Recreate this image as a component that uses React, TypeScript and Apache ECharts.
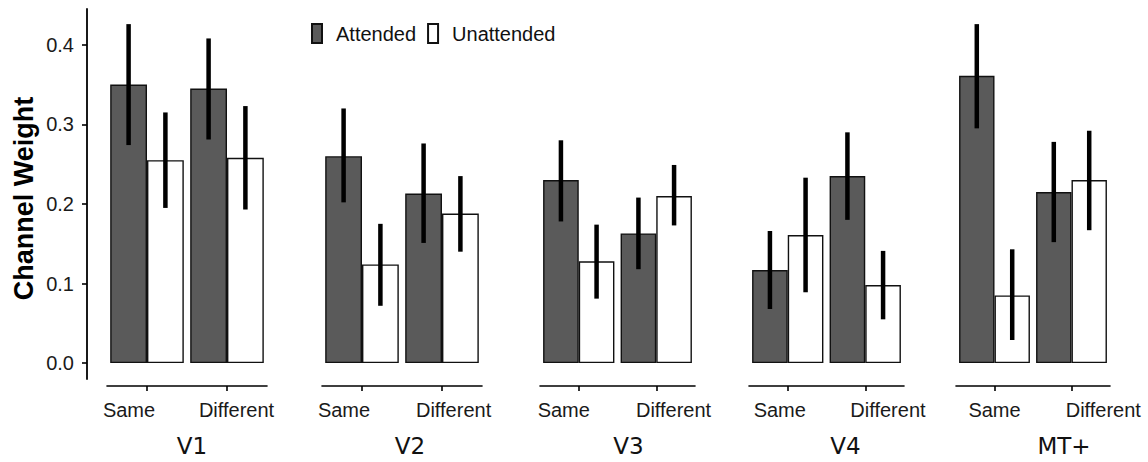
import React, { useEffect, useRef } from "react";
import * as echarts from "echarts";

const panels = ["V1", "V2", "V3", "V4", "MT+"];
const conditions = ["Same", "Different"];
const seriesNames = ["Attended", "Unattended"];
const attendedMean = [[0.350, 0.345], [0.260, 0.213], [0.230, 0.163], [0.117, 0.235], [0.361, 0.215]];
const attendedLow = [[0.274, 0.281], [0.202, 0.151], [0.178, 0.118], [0.068, 0.180], [0.295, 0.152]];
const attendedHigh = [[0.426, 0.408], [0.320, 0.276], [0.280, 0.208], [0.166, 0.290], [0.426, 0.278]];
const unattendedMean = [[0.255, 0.258], [0.124, 0.188], [0.128, 0.210], [0.161, 0.098], [0.085, 0.230]];
const unattendedLow = [[0.195, 0.193], [0.072, 0.140], [0.081, 0.173], [0.089, 0.055], [0.029, 0.167]];
const unattendedHigh = [[0.315, 0.323], [0.175, 0.235], [0.174, 0.249], [0.233, 0.141], [0.143, 0.292]];
const yTicks = [0, 0.1, 0.2, 0.3, 0.4];
const yMin = -0.02;
const yMax = 0.445;

// layout
const gridLeft = [107, 322, 540, 749, 956];
const gridWidth = [160, 160, 155, 155, 154];
// horizontal text offsets (px) of tick labels / panel titles relative to their anchor
const sameShift = [-18, -18, -15, -8, 0];
const diffShift = [9.5, 11.6, 17.3, 22.7, 31.8];
const titleShift = [5, 8, 11, 19, 31];
const GRID_TOP = 9;
const GRID_HEIGHT = 372;
const CAT_GAP = 0.08;
const FONT = "'Liberation Sans', Arial, Helvetica, sans-serif";
const DARK = "#5a5a5a";
const TICK_FS = 20;

const shiftPad = (s: number) => (s < 0 ? [0, -2 * s, 0, 0] : [0, 0, 0, 2 * s]);

export default function App() {
  const ref = useRef<HTMLDivElement>(null);
  useEffect(() => {
    if (!ref.current) return;
    const chart = echarts.init(ref.current, undefined, { renderer: "svg" });

    const grids = panels.map((_, i) => ({
      left: gridLeft[i],
      width: gridWidth[i],
      top: GRID_TOP,
      height: GRID_HEIGHT,
      containLabel: false,
    }));

    const xAxes = panels.map((p, i) => ({
      type: "category",
      gridIndex: i,
      data: conditions,
      position: "bottom",
      offset: 7,
      axisLine: { show: true, onZero: false, lineStyle: { color: "#000", width: 1.6 } },
      axisTick: { show: true, alignWithLabel: true, length: 5, lineStyle: { color: "#000", width: 1.6 } },
      axisLabel: {
        interval: 0,
        margin: 14,
        fontSize: TICK_FS,
        fontFamily: FONT,
        color: "#1a1a1a",
        formatter: (v: string) => (v === "Same" ? `{s|${v}}` : `{d|${v}}`),
        rich: {
          s: { fontSize: TICK_FS, fontFamily: FONT, color: "#1a1a1a", padding: shiftPad(sameShift[i]) },
          d: { fontSize: TICK_FS, fontFamily: FONT, color: "#1a1a1a", padding: shiftPad(diffShift[i]) },
        },
      },
      splitLine: { show: false },
      name: p,
      nameLocation: "middle",
      nameGap: 48,
      nameTextStyle: {
        fontFamily: "'DejaVu Sans', sans-serif",
        fontSize: 23,
        color: "#111",
        padding: shiftPad(titleShift[i]),
      },
    }));

    const yAxes = panels.map((_, i) => ({
      type: "value",
      gridIndex: i,
      min: yMin,
      max: yMax,
      show: i === 0,
      offset: 20,
      axisLine: { show: true, onZero: false, lineStyle: { color: "#000", width: 1.8 } },
      axisTick: { show: true, length: 5, customValues: yTicks, lineStyle: { color: "#000", width: 1.6 } },
      axisLabel: {
        customValues: yTicks,
        margin: 13,
        fontSize: TICK_FS,
        fontFamily: FONT,
        color: "#1a1a1a",
        formatter: (v: number) => v.toFixed(1),
      },
      splitLine: { show: false },
      name: i === 0 ? "Channel Weight" : "",
      nameLocation: "middle",
      nameRotate: 90,
      nameGap: 50,
      nameTextStyle: { fontFamily: FONT, fontSize: 27, fontWeight: "bold", color: "#000", padding: [0, 9, 0, 0] },
    }));

    const series: any[] = [];
    panels.forEach((_, i) => {
      series.push({
        type: "bar",
        name: seriesNames[0],
        xAxisIndex: i,
        yAxisIndex: i,
        data: attendedMean[i],
        barGap: "0%",
        barCategoryGap: `${CAT_GAP * 100}%`,
        itemStyle: { color: DARK, borderColor: "#111", borderWidth: 1.4 },
        z: 2,
      });
      series.push({
        type: "bar",
        name: seriesNames[1],
        xAxisIndex: i,
        yAxisIndex: i,
        data: unattendedMean[i],
        barGap: "0%",
        barCategoryGap: `${CAT_GAP * 100}%`,
        itemStyle: { color: "#ffffff", borderColor: "#111", borderWidth: 1.4 },
        z: 2,
      });
      const errData: number[][] = [];
      conditions.forEach((_, c) => {
        errData.push([c, attendedLow[i][c], attendedHigh[i][c], 0]);
        errData.push([c, unattendedLow[i][c], unattendedHigh[i][c], 1]);
      });
      series.push({
        type: "custom",
        name: "errors",
        xAxisIndex: i,
        yAxisIndex: i,
        data: errData,
        encode: { x: 0, y: [1, 2] },
        z: 5,
        silent: true,
        renderItem: (params: any, api: any) => {
          const c = api.value(0);
          const lo = api.coord([c, api.value(1)]);
          const hi = api.coord([c, api.value(2)]);
          const band = api.size([1, 0])[0];
          const barW = (band * (1 - CAT_GAP)) / 2;
          const off = api.value(3) === 0 ? -barW / 2 : barW / 2;
          return {
            type: "line",
            shape: { x1: lo[0] + off, y1: lo[1], x2: hi[0] + off, y2: hi[1] },
            style: { stroke: "#000", lineWidth: 4.5, lineCap: "butt" },
          };
        },
      });
    });

    chart.setOption({
      animation: false,
      backgroundColor: "#ffffff",
      grid: grids,
      xAxis: xAxes,
      yAxis: yAxes,
      legend: {
        data: seriesNames,
        left: 311,
        top: 23,
        padding: 0,
        icon: "rect",
        itemWidth: 10,
        itemHeight: 19,
        itemGap: 11,
        textStyle: { fontFamily: FONT, fontSize: 20, color: "#111", padding: [0, 0, 0, 9] },
        selectedMode: false,
      },
      series,
    });

    return () => chart.dispose();
  }, []);

  return (
    <div
      ref={ref}
      style={{ position: "fixed", left: 0, top: 0, width: 1148, height: 462, background: "#fff" }}
    />
  );
}
